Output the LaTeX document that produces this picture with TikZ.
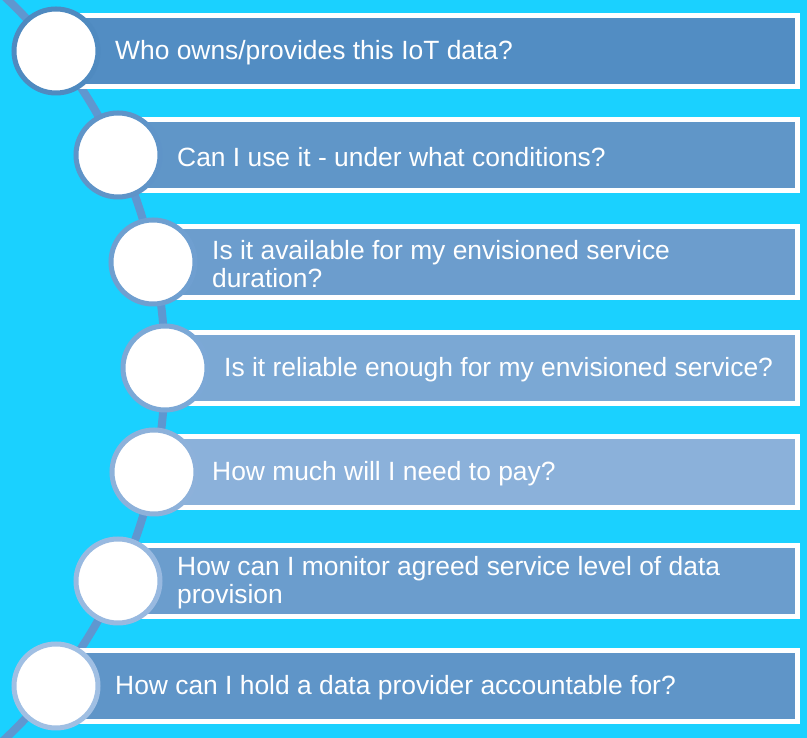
\documentclass[tikz,border=0pt]{standalone}
\usepackage{fontspec}
\setmainfont{Liberation Sans}
\definecolor{sky}{HTML}{1AD1FF}
\definecolor{spine}{HTML}{5F97D0}
\definecolor{barA}{HTML}{528DC3}
\definecolor{barB}{HTML}{6096C8}
\definecolor{barC}{HTML}{6C9DCD}
\definecolor{barD}{HTML}{7BA8D4}
\definecolor{barE}{HTML}{8BB1DA}
\definecolor{barF}{HTML}{6B9DCD}
\definecolor{barG}{HTML}{5F95C8}
\definecolor{ringA}{HTML}{4F8AC0}
\definecolor{ringB}{HTML}{5F94C8}
\definecolor{ringC}{HTML}{6F9FD0}
\definecolor{ringD}{HTML}{7CA8D6}
\definecolor{ringE}{HTML}{8DB1DA}
\definecolor{ringF}{HTML}{98B9E0}
\definecolor{ringG}{HTML}{A0BFE3}
\tikzset{
  bar/.style={draw=white, line width=5pt},
  dot/.style={circle, draw, fill=white, line width=5pt, minimum size=84pt, inner sep=0pt},
  question/.style={anchor=west, inner sep=0pt, text=white, align=left,
    font=\fontsize{26.4}{28}\selectfont}
}
\begin{document}
\begin{tikzpicture}[x=1pt, y=1pt]
            \fill[sky] (0,0) rectangle (807,738);
            \useasboundingbox (0,0) rectangle (807,738);
            \begin{scope}
                \clip (0,0) rectangle (807,738);
                \draw[spine, line width=8pt] (-345,370) ++(-50:510) arc (-50:50:510);
            \end{scope}

            \draw[bar, fill=barA] (56,651.5) rectangle (797.5,722.5);
            \draw[bar, fill=barB] (118,547.5) rectangle (797.5,618.5);
            \draw[bar, fill=barC] (153,440.5) rectangle (797.5,511.5);
            \draw[bar, fill=barD] (165,334.5) rectangle (797.5,405.5);
            \draw[bar, fill=barE] (154,230.5) rectangle (797.5,301.5);
            \draw[bar, fill=barF] (118,121.5) rectangle (797.5,192.5);
            \draw[bar, fill=barG] (56,16.5) rectangle (797.5,87.5);

            \node[dot, draw=ringA] (c1) at (56,687) {};
            \node[dot, draw=ringB] (c2) at (118,583) {};
            \node[dot, draw=ringC] (c3) at (153,476) {};
            \node[dot, draw=ringD] (c4) at (165,370) {};
            \node[dot, draw=ringE] (c5) at (154,266) {};
            \node[dot, draw=ringF] (c6) at (118,157) {};
            \node[dot, draw=ringG] (c7) at (56,52) {};

            \node[question] (t1) at (115,685) {Who owns/provides this IoT data?};
            \node[question] (t2) at (177,581) {Can I use it - under what conditions?};
            \node[question] (t3) at (212,474) {Is it available for my envisioned service\\duration?};
            \node[question] (t4) at (224,368) {Is it reliable enough for my envisioned service?};
            \node[question] (t5) at (212,264) {How much will I need to pay?};
            \node[question] (t6) at (177,155) {How can I monitor agreed service level of data\\provision};
            \node[question] (t7) at (115,50) {How can I hold a data provider accountable for?};
        \end{tikzpicture}
\end{document}
